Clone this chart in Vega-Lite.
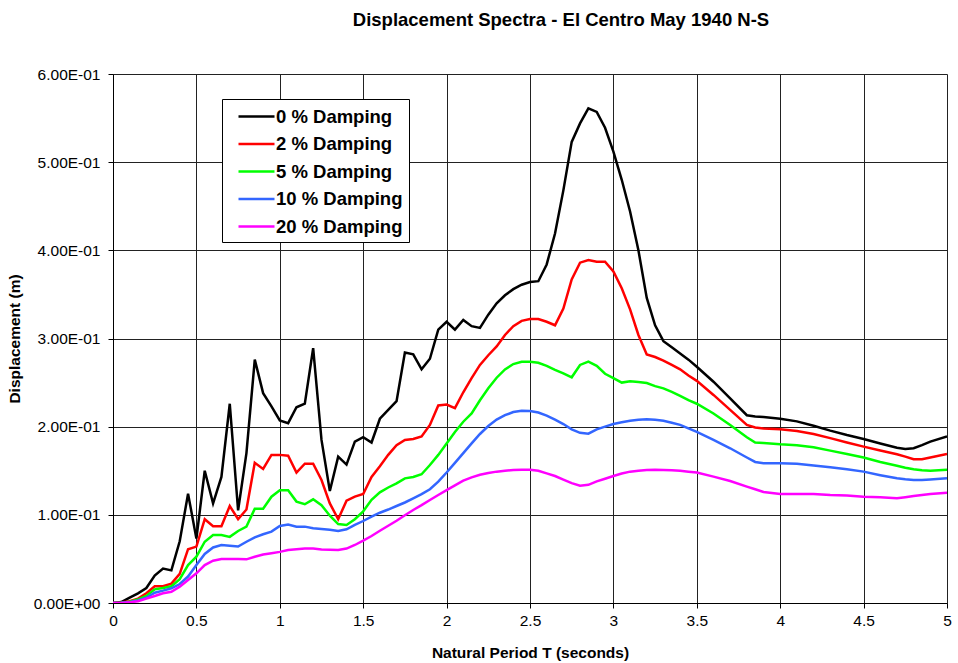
{
  "$schema": "https://vega.github.io/schema/vega-lite/v6.json",
  "autosize": {"type": "none"},
  "width": 834,
  "height": 529,
  "padding": {"left": 113, "top": 74, "right": 11, "bottom": 60},
  "background": "white",
  "config": {
    "font": "Liberation Sans",
    "view": {"stroke": null}
  },
  "title": {
    "text": "Displacement Spectra - El Centro May 1940 N-S",
    "fontSize": 18.5,
    "fontWeight": "bold",
    "color": "#000",
    "anchor": "middle",
    "dx": 31,
    "offset": 38
  },
  "data": {
    "values": [
      {"T":0,"a":0,"b":0,"c":0,"d":0,"e":0},
      {"T":0.05,"a":0.001,"b":0.0005,"c":0.0003,"d":0.0002,"e":0.0001},
      {"T":0.1,"a":0.006,"b":0.002,"c":0.0015,"d":0.001,"e":0.0008},
      {"T":0.15,"a":0.011,"b":0.005,"c":0.004,"d":0.003,"e":0.002},
      {"T":0.2,"a":0.017,"b":0.011,"c":0.008,"d":0.006,"e":0.005},
      {"T":0.25,"a":0.031,"b":0.019,"c":0.0155,"d":0.0117,"e":0.008},
      {"T":0.3,"a":0.039,"b":0.019,"c":0.017,"d":0.014,"e":0.011},
      {"T":0.35,"a":0.037,"b":0.022,"c":0.019,"d":0.0167,"e":0.0128},
      {"T":0.4,"a":0.07,"b":0.033,"c":0.027,"d":0.0215,"e":0.0185},
      {"T":0.45,"a":0.124,"b":0.061,"c":0.043,"d":0.03,"e":0.026},
      {"T":0.5,"a":0.073,"b":0.064,"c":0.0525,"d":0.043,"e":0.0337},
      {"T":0.55,"a":0.15,"b":0.095,"c":0.0695,"d":0.0556,"e":0.043},
      {"T":0.6,"a":0.113,"b":0.087,"c":0.077,"d":0.063,"e":0.048},
      {"T":0.65,"a":0.143,"b":0.087,"c":0.077,"d":0.0658,"e":0.05},
      {"T":0.7,"a":0.226,"b":0.11,"c":0.075,"d":0.065,"e":0.05},
      {"T":0.75,"a":0.105,"b":0.095,"c":0.0817,"d":0.064,"e":0.05},
      {"T":0.8,"a":0.17,"b":0.106,"c":0.0866,"d":0.0695,"e":0.0495},
      {"T":0.85,"a":0.276,"b":0.159,"c":0.107,"d":0.0745,"e":0.0525},
      {"T":0.9,"a":0.238,"b":0.152,"c":0.107,"d":0.078,"e":0.055},
      {"T":0.95,"a":0.223,"b":0.168,"c":0.1206,"d":0.081,"e":0.0565},
      {"T":1.0,"a":0.207,"b":0.168,"c":0.128,"d":0.0873,"e":0.058},
      {"T":1.05,"a":0.204,"b":0.167,"c":0.128,"d":0.089,"e":0.06},
      {"T":1.1,"a":0.222,"b":0.148,"c":0.115,"d":0.0866,"e":0.061},
      {"T":1.15,"a":0.226,"b":0.158,"c":0.112,"d":0.0866,"e":0.0617},
      {"T":1.2,"a":0.289,"b":0.158,"c":0.1176,"d":0.0847,"e":0.0617},
      {"T":1.25,"a":0.185,"b":0.1395,"c":0.111,"d":0.084,"e":0.0606},
      {"T":1.3,"a":0.127,"b":0.113,"c":0.099,"d":0.083,"e":0.0605},
      {"T":1.35,"a":0.166,"b":0.095,"c":0.0895,"d":0.0817,"e":0.06},
      {"T":1.4,"a":0.157,"b":0.116,"c":0.0885,"d":0.0836,"e":0.0617},
      {"T":1.45,"a":0.183,"b":0.1206,"c":0.095,"d":0.0885,"e":0.0658},
      {"T":1.5,"a":0.188,"b":0.1236,"c":0.104,"d":0.093,"e":0.0707},
      {"T":1.55,"a":0.182,"b":0.143,"c":0.117,"d":0.098,"e":0.076},
      {"T":1.6,"a":0.209,"b":0.155,"c":0.1255,"d":0.1024,"e":0.082},
      {"T":1.65,"a":0.219,"b":0.168,"c":0.131,"d":0.106,"e":0.0876},
      {"T":1.7,"a":0.229,"b":0.179,"c":0.1357,"d":0.11,"e":0.0933},
      {"T":1.75,"a":0.284,"b":0.185,"c":0.1414,"d":0.114,"e":0.0995},
      {"T":1.8,"a":0.282,"b":0.186,"c":0.143,"d":0.1187,"e":0.1055},
      {"T":1.85,"a":0.265,"b":0.189,"c":0.146,"d":0.1235,"e":0.111},
      {"T":1.9,"a":0.277,"b":0.202,"c":0.1565,"d":0.129,"e":0.1168},
      {"T":1.95,"a":0.31,"b":0.224,"c":0.168,"d":0.1376,"e":0.1225},
      {"T":2.0,"a":0.319,"b":0.225,"c":0.181,"d":0.148,"e":0.128},
      {"T":2.05,"a":0.31,"b":0.221,"c":0.194,"d":0.159,"e":0.1335},
      {"T":2.1,"a":0.321,"b":0.239,"c":0.2056,"d":0.17,"e":0.1387},
      {"T":2.15,"a":0.314,"b":0.255,"c":0.215,"d":0.181,"e":0.1425},
      {"T":2.2,"a":0.312,"b":0.27,"c":0.23,"d":0.1917,"e":0.1455},
      {"T":2.25,"a":0.327,"b":0.281,"c":0.2435,"d":0.2007,"e":0.1475},
      {"T":2.3,"a":0.34,"b":0.291,"c":0.2555,"d":0.208,"e":0.149},
      {"T":2.35,"a":0.349,"b":0.304,"c":0.265,"d":0.213,"e":0.15},
      {"T":2.4,"a":0.356,"b":0.314,"c":0.271,"d":0.2166,"e":0.1508},
      {"T":2.45,"a":0.361,"b":0.32,"c":0.2737,"d":0.218,"e":0.151},
      {"T":2.5,"a":0.364,"b":0.322,"c":0.2737,"d":0.2178,"e":0.151},
      {"T":2.55,"a":0.365,"b":0.322,"c":0.2725,"d":0.216,"e":0.15},
      {"T":2.6,"a":0.384,"b":0.319,"c":0.269,"d":0.2125,"e":0.147},
      {"T":2.65,"a":0.419,"b":0.315,"c":0.2645,"d":0.208,"e":0.144},
      {"T":2.7,"a":0.468,"b":0.334,"c":0.2605,"d":0.203,"e":0.14},
      {"T":2.75,"a":0.523,"b":0.367,"c":0.256,"d":0.197,"e":0.136},
      {"T":2.8,"a":0.544,"b":0.386,"c":0.27,"d":0.193,"e":0.133},
      {"T":2.85,"a":0.561,"b":0.389,"c":0.2737,"d":0.192,"e":0.134},
      {"T":2.9,"a":0.557,"b":0.387,"c":0.269,"d":0.197,"e":0.138},
      {"T":2.95,"a":0.539,"b":0.387,"c":0.26,"d":0.2,"e":0.141},
      {"T":3.0,"a":0.512,"b":0.376,"c":0.255,"d":0.203,"e":0.144},
      {"T":3.05,"a":0.48,"b":0.357,"c":0.25,"d":0.205,"e":0.1468},
      {"T":3.1,"a":0.444,"b":0.333,"c":0.2515,"d":0.2068,"e":0.149},
      {"T":3.15,"a":0.4,"b":0.304,"c":0.2507,"d":0.2078,"e":0.15},
      {"T":3.2,"a":0.346,"b":0.282,"c":0.2495,"d":0.2083,"e":0.1508},
      {"T":3.25,"a":0.315,"b":0.279,"c":0.246,"d":0.2078,"e":0.151},
      {"T":3.3,"a":0.297,"b":0.275,"c":0.2435,"d":0.2068,"e":0.1508},
      {"T":3.35,"a":0.29,"b":0.27,"c":0.2395,"d":0.2045,"e":0.1505},
      {"T":3.4,"a":0.283,"b":0.265,"c":0.235,"d":0.202,"e":0.15},
      {"T":3.45,"a":0.276,"b":0.258,"c":0.23,"d":0.198,"e":0.149},
      {"T":3.5,"a":0.268,"b":0.252,"c":0.226,"d":0.194,"e":0.148},
      {"T":3.6,"a":0.251,"b":0.236,"c":0.215,"d":0.185,"e":0.1433},
      {"T":3.7,"a":0.232,"b":0.219,"c":0.202,"d":0.1755,"e":0.1384},
      {"T":3.8,"a":0.213,"b":0.202,"c":0.188,"d":0.165,"e":0.132},
      {"T":3.85,"a":0.2115,"b":0.199,"c":0.182,"d":0.16,"e":0.129},
      {"T":3.9,"a":0.211,"b":0.198,"c":0.1815,"d":0.1585,"e":0.126},
      {"T":4.0,"a":0.209,"b":0.197,"c":0.18,"d":0.1585,"e":0.1236},
      {"T":4.1,"a":0.206,"b":0.195,"c":0.179,"d":0.158,"e":0.1236},
      {"T":4.2,"a":0.201,"b":0.1917,"c":0.1766,"d":0.156,"e":0.1236},
      {"T":4.3,"a":0.1955,"b":0.187,"c":0.1728,"d":0.154,"e":0.1225},
      {"T":4.4,"a":0.1905,"b":0.182,"c":0.169,"d":0.1516,"e":0.122},
      {"T":4.5,"a":0.186,"b":0.1774,"c":0.165,"d":0.149,"e":0.1206},
      {"T":4.6,"a":0.181,"b":0.173,"c":0.16,"d":0.145,"e":0.12},
      {"T":4.7,"a":0.176,"b":0.1687,"c":0.1557,"d":0.1414,"e":0.1187},
      {"T":4.75,"a":0.1747,"b":0.166,"c":0.1535,"d":0.1403,"e":0.12},
      {"T":4.8,"a":0.1755,"b":0.163,"c":0.1516,"d":0.1395,"e":0.1213},
      {"T":4.85,"a":0.179,"b":0.163,"c":0.1505,"d":0.1395,"e":0.1225},
      {"T":4.9,"a":0.183,"b":0.165,"c":0.15,"d":0.14,"e":0.1236},
      {"T":5.0,"a":0.189,"b":0.169,"c":0.151,"d":0.1414,"e":0.125}
    ]
  },
  "transform": [
    {"fold": ["a", "b", "c", "d", "e"], "as": ["k", "D"]},
    {"lookup": "k", "from": {"data": {"values": [
      {"k": "a", "Damping": "0 % Damping"},
      {"k": "b", "Damping": "2 % Damping"},
      {"k": "c", "Damping": "5 % Damping"},
      {"k": "d", "Damping": "10 % Damping"},
      {"k": "e", "Damping": "20 % Damping"}
    ]}, "key": "k", "fields": ["Damping"]}}
  ],
  "mark": {"type": "line", "strokeWidth": 2.5, "clip": true},
  "encoding": {
    "x": {
      "field": "T",
      "type": "quantitative",
      "scale": {"domain": [0, 5], "nice": false},
      "axis": {
        "title": "Natural Period T (seconds)",
        "values": [0, 0.5, 1, 1.5, 2, 2.5, 3, 3.5, 4, 4.5, 5],
        "format": "~g",
        "grid": true,
        "gridColor": "#222",
        "gridWidth": 1,
        "gridOpacity": 1,
        "domainColor": "#000",
        "domainWidth": 1,
        "tickColor": "#000",
        "tickSize": 5,
        "labelPadding": 5,
        "labelFontSize": 15.5,
        "labelColor": "#000",
        "labelFlush": false,
        "titleFontSize": 15.5,
        "titleFontWeight": "bold",
        "titleColor": "#000",
        "titleBaseline": "top",
        "titleY": 42
      }
    },
    "y": {
      "field": "D",
      "type": "quantitative",
      "scale": {"domain": [0, 0.6], "nice": false},
      "axis": {
        "title": "Displacement (m)",
        "values": [0, 0.1, 0.2, 0.3, 0.4, 0.5, 0.6],
        "labelExpr": "datum.value == 0 ? '0.00E+00' : format(datum.value * 10, '.2f') + 'E-01'",
        "grid": true,
        "gridColor": "#222",
        "gridWidth": 1,
        "gridOpacity": 1,
        "domainColor": "#000",
        "domainWidth": 1,
        "tickColor": "#000",
        "tickSize": 5,
        "labelPadding": 8,
        "labelFontSize": 15.5,
        "labelColor": "#000",
        "labelFlush": false,
        "titleFontSize": 15.5,
        "titleFontWeight": "bold",
        "titleColor": "#000",
        "titleX": -91
      }
    },
    "color": {
      "field": "Damping",
      "type": "nominal",
      "scale": {
        "domain": ["0 % Damping", "2 % Damping", "5 % Damping", "10 % Damping", "20 % Damping"],
        "range": ["#000000", "#FF0000", "#00FF00", "#3366FF", "#FF00FF"]
      },
      "legend": {
        "title": null,
        "orient": "none",
        "legendX": 109,
        "legendY": 25,
        "padding": 6,
        "strokeColor": "#000",
        "fillColor": "#fff",
        "symbolType": "M-1.8,0H1.8",
        "symbolSize": 400,
        "symbolStrokeWidth": 2.5,
        "symbolOffset": 17,
        "labelFontSize": 18.5,
        "labelFontWeight": "bold",
        "labelColor": "#000",
        "labelOffset": 8,
        "rowPadding": 6.5
      }
    }
  }
}
